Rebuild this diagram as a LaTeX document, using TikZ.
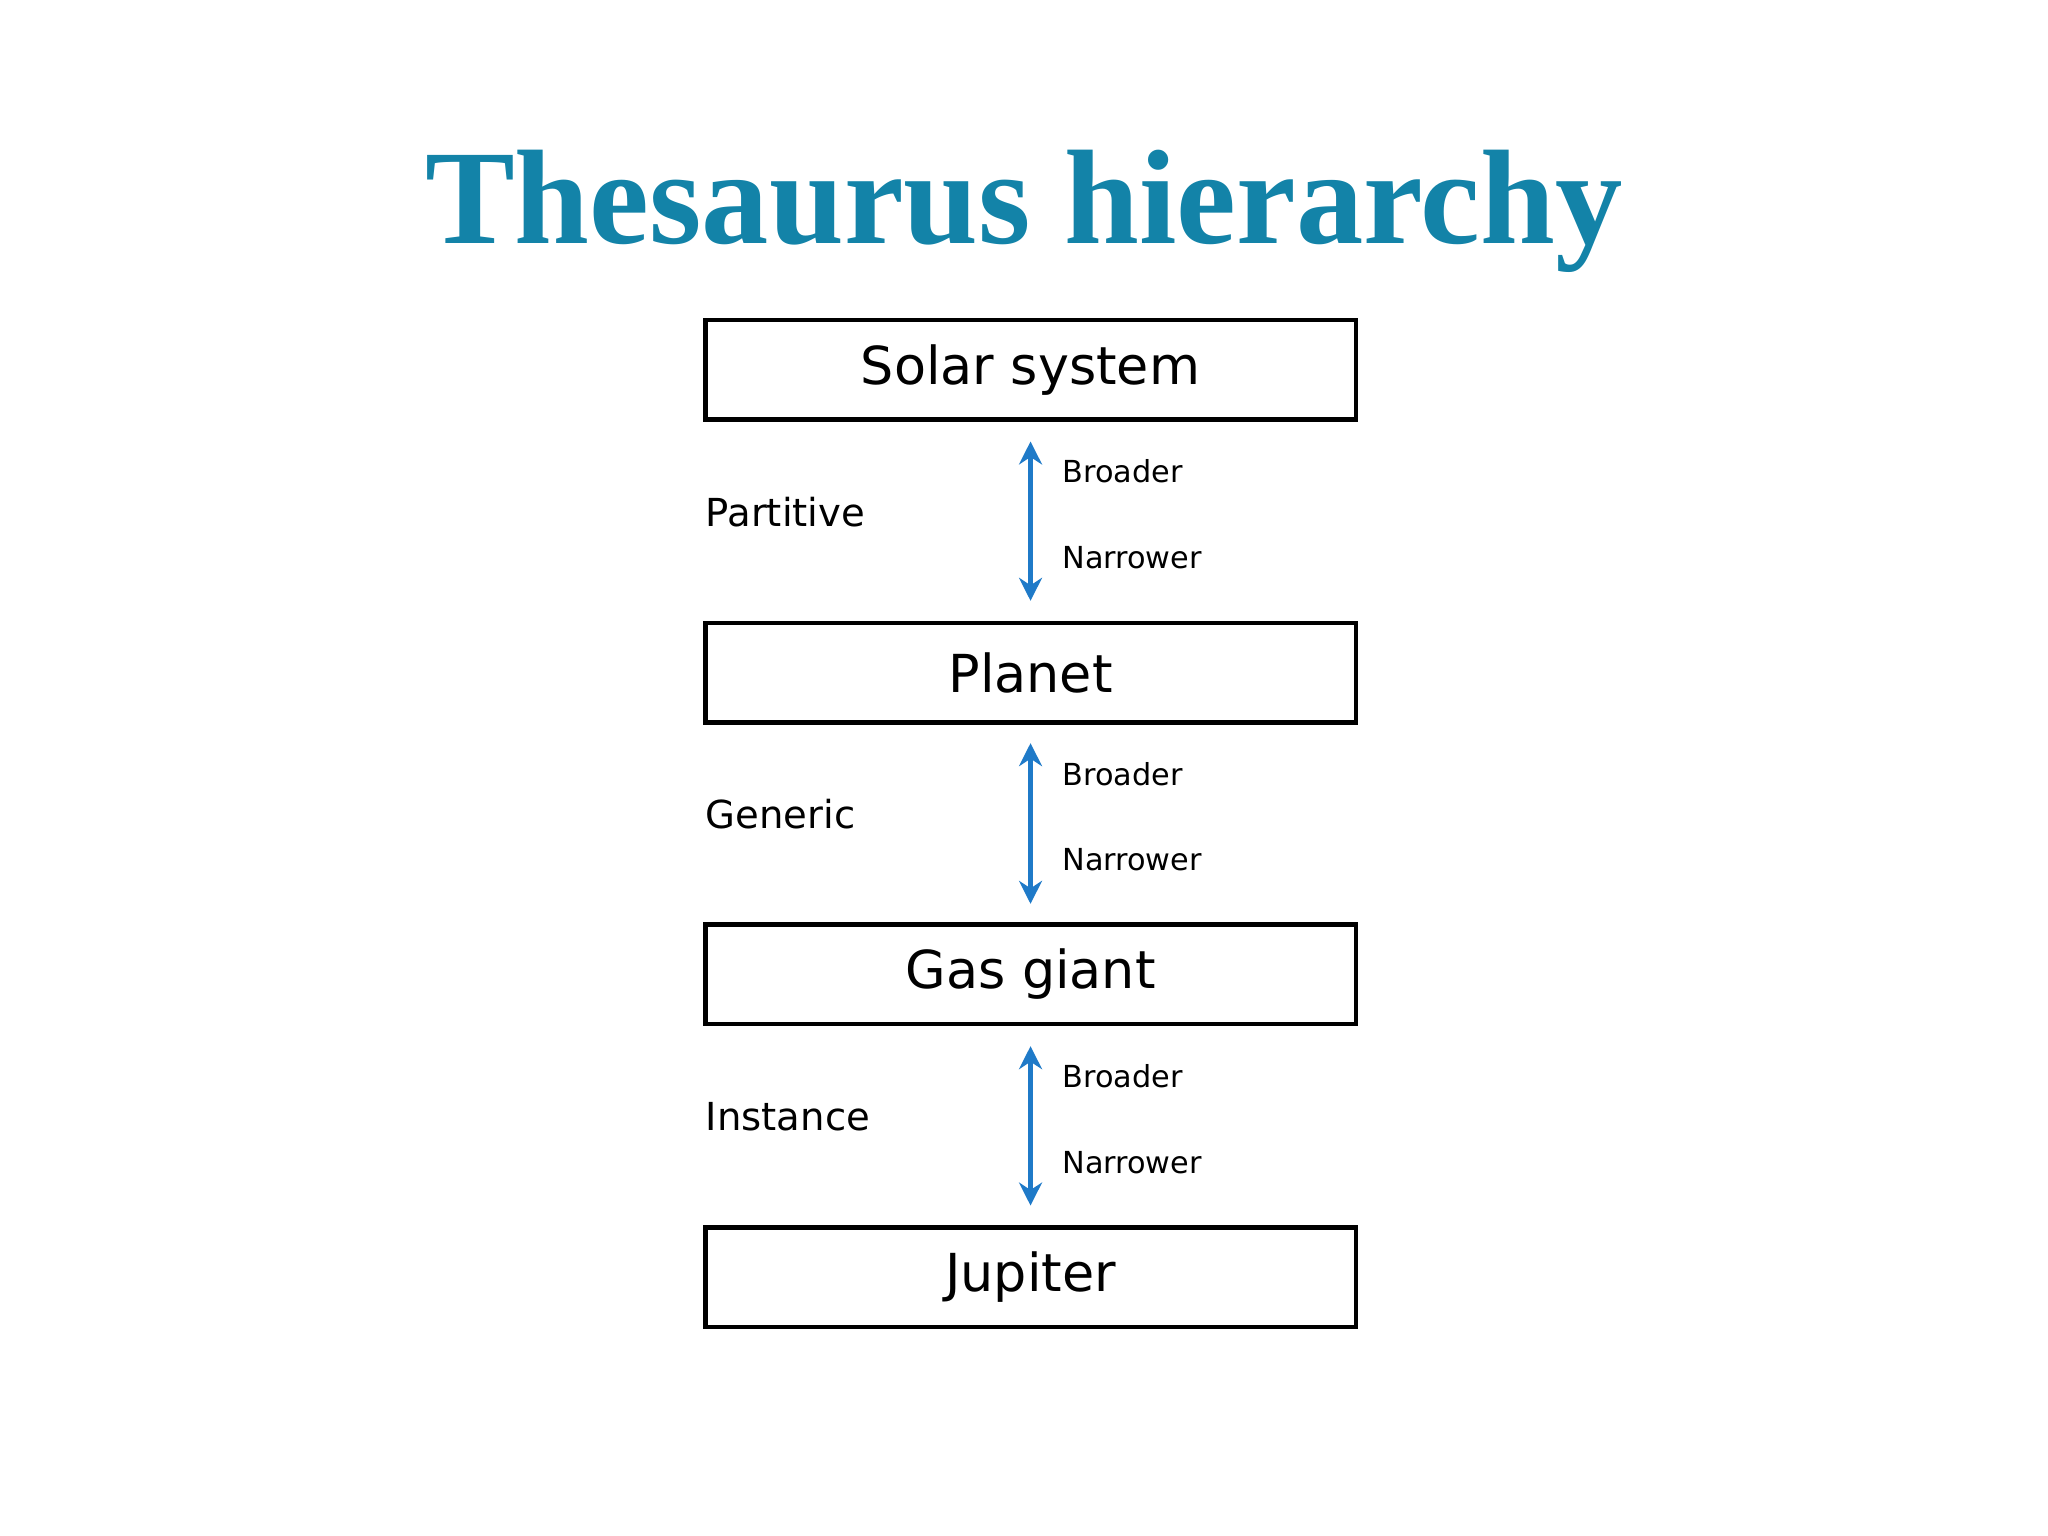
\documentclass[tikz,border=0pt]{standalone}
\usepackage{fontspec}
\setmainfont{DejaVu Sans}
\newfontfamily\titlefont{Liberation Serif}
\usetikzlibrary{arrows.meta}
\definecolor{teal1}{HTML}{1383A8}
\definecolor{arrblue}{HTML}{1F7AC8}
\tikzset{
  box/.style={draw=black, line width=1.05pt, minimum width=4.98cm, minimum height=0.76cm, font=\fontsize{11.4}{13}\selectfont, inner sep=0},
  rel/.style={anchor=west, font=\fontsize{8.4}{10}\selectfont},
  dir/.style={anchor=west, font=\fontsize{6.6}{8}\selectfont},
  link/.style={draw=arrblue, line width=1pt, {Stealth[length=5pt,width=5pt]}-{Stealth[length=5pt,width=5pt]}}
}
\begin{document}
\begin{tikzpicture}[x=0.01cm,y=-0.01cm]
\useasboundingbox (0,0) rectangle (1568,1176);
\node[font=\titlefont\bfseries\fontsize{29.3}{34}\selectfont, text=teal1] (title) at (784,162) {Thesaurus hierarchy};
\node[box] (b1) at (789,283) {Solar system};
\node[box] (b2) at (789,515) {Planet};
\node[box] (b3) at (789,746) {Gas giant};
\node[box] (b4) at (789,978) {Jupiter};
\coordinate (a1t) at (789,338); \coordinate (a1b) at (789,460);
\coordinate (a2t) at (789,569); \coordinate (a2b) at (789,692);
\coordinate (a3t) at (789,801); \coordinate (a3b) at (789,923);
\draw[link] (a1t) -- (a1b);
\draw[link] (a2t) -- (a2b);
\draw[link] (a3t) -- (a3b);
\node[rel] (r1) at (528,392) {Partitive};
\node[rel] (r2) at (528,623) {Generic};
\node[rel] (r3) at (528,855) {Instance};
\node[dir] (u1) at (801,361) {Broader};
\node[dir] (d1) at (801,427) {Narrower};
\node[dir] (u2) at (801,593) {Broader};
\node[dir] (d2) at (801,658) {Narrower};
\node[dir] (u3) at (801,824) {Broader};
\node[dir] (d3) at (801,890) {Narrower};
\end{tikzpicture}
\end{document}
